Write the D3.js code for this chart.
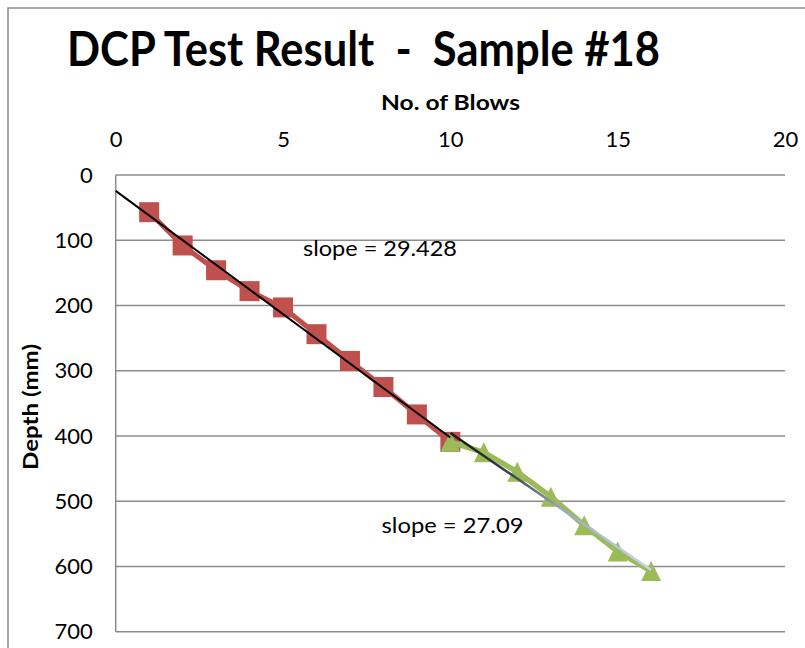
<!DOCTYPE html>
<html>
<head>
<meta charset="utf-8">
<script src="https://cdn.jsdelivr.net/npm/d3@7"></script>
<style>
  html, body { margin: 0; padding: 0; background: #fff; }
  svg { display: block; font-family: Lato, "Open Sans", sans-serif; }
</style>
</head>
<body>
<svg id="chart" width="805" height="648"></svg>
<script>
// DCP readings: cumulative blows vs. penetration depth (mm)
const blowsLayer1 = [1, 2, 3, 4, 5, 6, 7, 8, 9, 10];
const depthLayer1 = [57, 108, 146, 178, 203, 244, 285, 325, 367, 409];
const blowsLayer2 = [10, 11, 12, 13, 14, 15, 16];
const depthLayer2 = [409, 425, 455, 493, 537, 577, 607];

const xTicks = [0, 5, 10, 15, 20];
const yTicks = [0, 100, 200, 300, 400, 500, 600, 700];

const titleText = "DCP Test Result  -  Sample #18";
const xTitle = "No. of Blows";
const yTitle = "Depth (mm)";
const slopeLabel1 = "slope = 29.428";
const slopeLabel2 = "slope = 27.09";

const svg = d3.select("#chart");
const W = 805, H = 648;
const plot = { left: 115.7, right: 785, top: 175, bottom: 631.7 };

const x = d3.scaleLinear().domain([0, 20]).range([plot.left, plot.right]);
const y = d3.scaleLinear().domain([0, 700]).range([plot.top, plot.bottom]);

// chart frame
svg.append("path")
  .attr("d", `M8,${H} L8,8 L${W},8`)
  .attr("fill", "none").attr("stroke", "#8a8a8a").attr("stroke-width", 1.5);

// title
svg.append("text")
  .attr("x", 67).attr("y", 66)
  .attr("font-size", 47).attr("font-weight", 700)
  .attr("textLength", 593).attr("lengthAdjust", "spacingAndGlyphs")
  .attr("fill", "#000")
  .style("white-space", "pre")
  .text(titleText);

// horizontal gridlines
svg.append("g").selectAll("line").data(yTicks).join("line")
  .attr("x1", plot.left).attr("x2", plot.right)
  .attr("y1", d => y(d)).attr("y2", d => y(d))
  .attr("stroke", "#8c8c8c").attr("stroke-width", 1.5);

// left axis line
svg.append("line")
  .attr("x1", plot.left).attr("x2", plot.left)
  .attr("y1", plot.top).attr("y2", plot.bottom)
  .attr("stroke", "#8c8c8c").attr("stroke-width", 1.5);

// top (blows) axis
const xAxis = svg.append("g")
  .attr("transform", `translate(0,${plot.top})`)
  .call(d3.axisTop(x).tickValues(xTicks).tickSize(0).tickPadding(28).tickFormat(d3.format("d")));
xAxis.select(".domain").remove();
xAxis.selectAll("text").attr("font-size", 22).attr("fill", "#000")
  .attr("font-family", "Lato, sans-serif");

// left (depth) axis
const yAxis = svg.append("g")
  .attr("transform", `translate(${plot.left},0)`)
  .call(d3.axisLeft(y).tickValues(yTicks).tickSize(0).tickPadding(23).tickFormat(d3.format("d")));
yAxis.select(".domain").remove();
yAxis.selectAll("text").attr("font-size", 22).attr("fill", "#000")
  .attr("font-family", "Lato, sans-serif");

// axis titles
svg.append("text")
  .attr("x", 450.5).attr("y", 110)
  .attr("text-anchor", "middle")
  .attr("font-size", 20).attr("font-weight", 700)
  .attr("textLength", 139).attr("lengthAdjust", "spacingAndGlyphs")
  .text(xTitle);

svg.append("text")
  .attr("transform", "translate(38,407) rotate(-90)")
  .attr("text-anchor", "middle")
  .attr("font-size", 20).attr("font-weight", 700)
  .attr("textLength", 126).attr("lengthAdjust", "spacingAndGlyphs")
  .text(yTitle);

// series data
const layer1 = blowsLayer1.map((b, i) => ({ b, d: depthLayer1[i] }));
const layer2 = blowsLayer2.map((b, i) => ({ b, d: depthLayer2[i] }));

const line = d3.line().x(p => x(p.b)).y(p => y(p.d));

// layer 1 series (red squares)
svg.append("path").datum(layer1)
  .attr("d", line).attr("fill", "none")
  .attr("stroke", "#C0504D").attr("stroke-width", 5).attr("stroke-linejoin", "round");
svg.append("g").selectAll("rect").data(layer1).join("rect")
  .attr("x", p => x(p.b) - 10).attr("y", p => y(p.d) - 10)
  .attr("width", 20).attr("height", 20)
  .attr("fill", "#C0504D");

// layer 2 series (green triangles)
svg.append("path").datum(layer2)
  .attr("d", line).attr("fill", "none")
  .attr("stroke", "#9BBB59").attr("stroke-width", 5.5).attr("stroke-linejoin", "round");
const triPath = "M0,-10L10,10L-10,10Z";
svg.append("g").selectAll("path").data(layer2).join("path")
  .attr("transform", p => `translate(${x(p.b)},${y(p.d)})`)
  .attr("d", triPath)
  .attr("fill", "#9BBB59");

// least-squares linear fit
function fit(pts) {
  const mx = d3.mean(pts, p => p.b), my = d3.mean(pts, p => p.d);
  const sxy = d3.sum(pts, p => (p.b - mx) * (p.d - my));
  const sxx = d3.sum(pts, p => (p.b - mx) ** 2);
  const m = sxy / sxx;
  return { m, c: my - m * mx };
}

const f1 = fit(layer1);
const f2 = fit(layer2);

// trendline for layer 1, extended back to zero blows
svg.append("line")
  .attr("x1", x(0)).attr("y1", y(f1.c))
  .attr("x2", x(10)).attr("y2", y(f1.c + f1.m * 10))
  .attr("stroke", "#000").attr("stroke-width", 2);

// trendline for layer 2, shaded from dark to pale blue
const defs = svg.append("defs");
const x1t = x(10), y1t = y(f2.c + f2.m * 10);
const x2t = x(16), y2t = y(f2.c + f2.m * 16);
const grad = defs.append("linearGradient")
  .attr("id", "trend2").attr("gradientUnits", "userSpaceOnUse")
  .attr("x1", x1t).attr("y1", y1t).attr("x2", x2t).attr("y2", y2t);
grad.append("stop").attr("offset", 0).attr("stop-color", "#111");
grad.append("stop").attr("offset", 0.3).attr("stop-color", "#3a4250");
grad.append("stop").attr("offset", 0.55).attr("stop-color", "#97a8c2");
grad.append("stop").attr("offset", 1).attr("stop-color", "#c9d7ec");
svg.append("line")
  .attr("x1", x1t).attr("y1", y1t).attr("x2", x2t).attr("y2", y2t)
  .attr("stroke", "url(#trend2)").attr("stroke-width", 2.5);

// slope annotations
svg.append("text")
  .attr("x", 303).attr("y", 256)
  .attr("font-size", 21)
  .attr("textLength", 154).attr("lengthAdjust", "spacingAndGlyphs")
  .text(slopeLabel1);
svg.append("text")
  .attr("x", 381.5).attr("y", 533)
  .attr("font-size", 21)
  .attr("textLength", 142).attr("lengthAdjust", "spacingAndGlyphs")
  .text(slopeLabel2);
</script>
</body>
</html>
